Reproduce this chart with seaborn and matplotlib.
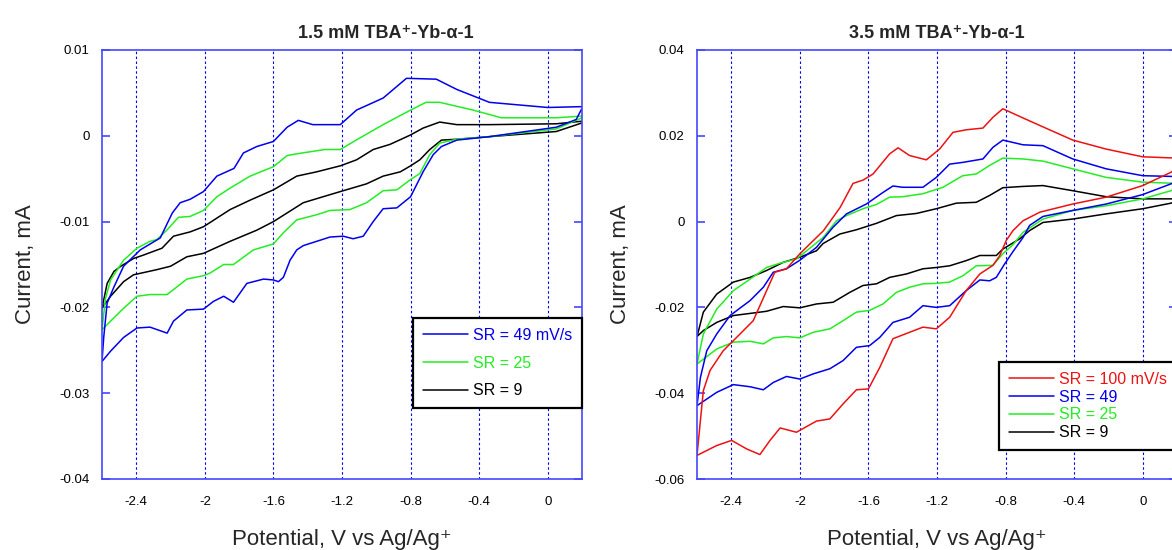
import numpy as np
import pandas as pd
import matplotlib
matplotlib.use("Agg")
import matplotlib.pyplot as plt
import seaborn as sns

# ---------------- data (left panel: 1.5 mM) ----------------
L_blue_low_V = [0.2, 0.166, 0.05, -0.34, -0.53, -0.62, -0.668, -0.727, -0.8, -0.88, -0.96, -1.018, -1.076, -1.135, -1.193, -1.27, -1.348, -1.426, -1.464, -1.503, -1.542, -1.571, -1.6, -1.658, -1.755, -1.833, -1.89, -1.95, -2.008, -2.105, -2.183, -2.22, -2.32, -2.396, -2.474, -2.55, -2.6]
L_blue_low_I = [0.0032, 0.0019, 0.001, -0.0001, -0.0005, -0.00125, -0.0022, -0.0042, -0.0071, -0.0084, -0.0085, -0.01, -0.0117, -0.012, -0.0117, -0.0118, -0.0123, -0.0128, -0.0133, -0.0145, -0.0165, -0.017, -0.0168, -0.0167, -0.0172, -0.0194, -0.0187, -0.0193, -0.0202, -0.0203, -0.0216, -0.023, -0.0223, -0.0224, -0.0235, -0.0251, -0.0263]
L_blue_up_V = [-2.6, -2.59, -2.57, -2.53, -2.474, -2.377, -2.26, -2.19, -2.144, -2.086, -2.008, -1.93, -1.83, -1.775, -1.697, -1.6, -1.52, -1.455, -1.37, -1.21, -1.115, -0.96, -0.824, -0.65, -0.53, -0.34, 0.0, 0.2]
L_blue_up_I = [-0.0263, -0.0235, -0.0195, -0.0176, -0.0152, -0.0133, -0.0119, -0.009, -0.0078, -0.0074, -0.0065, -0.0047, -0.0038, -0.002, -0.00125, -0.00066, 0.001, 0.0018, 0.0013, 0.0013, 0.003, 0.0044, 0.0067, 0.0066, 0.0054, 0.0039, 0.0033, 0.0034]

L_green_low_V = [0.2, 0.05, -0.34, -0.53, -0.63, -0.688, -0.746, -0.8, -0.88, -0.96, -1.057, -1.154, -1.27, -1.348, -1.464, -1.542, -1.6, -1.717, -1.833, -1.89, -1.97, -2.008, -2.105, -2.22, -2.32, -2.396, -2.474, -2.55, -2.6]
L_green_low_I = [0.0021, 0.0008, -0.0001, -0.0004, -0.00085, -0.0022, -0.0044, -0.0051, -0.0063, -0.0064, -0.0078, -0.0086, -0.0087, -0.0092, -0.0098, -0.0113, -0.0126, -0.0133, -0.015, -0.015, -0.016, -0.0163, -0.0167, -0.0185, -0.0185, -0.0187, -0.0201, -0.0216, -0.0226]
L_green_up_V = [-2.6, -2.58, -2.55, -2.474, -2.396, -2.32, -2.28, -2.222, -2.154, -2.086, -2.008, -1.93, -1.853, -1.736, -1.6, -1.52, -1.464, -1.3, -1.21, -1.115, -0.96, -0.8, -0.71, -0.63, -0.436, -0.27, 0.05, 0.2]
L_green_up_I = [-0.0226, -0.019, -0.0168, -0.0145, -0.0131, -0.0123, -0.0121, -0.011, -0.0095, -0.0094, -0.0087, -0.0071, -0.0061, -0.0047, -0.0036, -0.0023, -0.0021, -0.0016, -0.0016, -0.00047, 0.0013, 0.003, 0.0039, 0.0039, 0.003, 0.0021, 0.0021, 0.0023]

L_black_low_V = [0.2, 0.05, -0.34, -0.53, -0.62, -0.688, -0.746, -0.8, -0.86, -0.96, -1.057, -1.193, -1.31, -1.426, -1.6, -1.697, -1.853, -2.008, -2.105, -2.2, -2.28, -2.416, -2.474, -2.55, -2.6]
L_black_low_I = [0.0015, 0.0005, -0.0001, -0.0004, -0.0005, -0.0016, -0.0028, -0.0035, -0.0042, -0.0047, -0.0056, -0.0064, -0.0071, -0.0078, -0.01, -0.011, -0.0123, -0.0137, -0.0141, -0.0152, -0.0156, -0.0162, -0.017, -0.0187, -0.0201]
L_black_up_V = [-2.6, -2.57, -2.53, -2.49, -2.416, -2.358, -2.25, -2.183, -2.086, -2.008, -1.853, -1.736, -1.6, -1.464, -1.348, -1.21, -1.115, -1.018, -0.92, -0.8, -0.727, -0.63, -0.53, -0.34, 0.05, 0.2]
L_black_up_I = [-0.0201, -0.0172, -0.0158, -0.0152, -0.0143, -0.0139, -0.0131, -0.0117, -0.0112, -0.0106, -0.0086, -0.0075, -0.0063, -0.0047, -0.0042, -0.0035, -0.0028, -0.0016, -0.001, 0.0001, 0.0009, 0.0016, 0.0013, 0.0013, 0.0014, 0.0017]

# ---------------- data (right panel: 3.5 mM) ----------------
R_red_low_V = [0.2, 0.165, 0.0, -0.213, -0.408, -0.6, -0.698, -0.757, -0.796, -0.835, -0.874, -0.95, -1.03, -1.126, -1.204, -1.282, -1.36, -1.457, -1.534, -1.6, -1.67, -1.748, -1.825, -1.903, -2.02, -2.115, -2.174, -2.233, -2.31, -2.398, -2.485, -2.6]
R_red_low_I = [0.0125, 0.0115, 0.0084, 0.0057, 0.0041, 0.0022, 0.0002, -0.0021, -0.0044, -0.008, -0.0102, -0.0122, -0.0161, -0.0223, -0.025, -0.0246, -0.0258, -0.0273, -0.034, -0.039, -0.0392, -0.0425, -0.046, -0.0465, -0.0491, -0.0481, -0.051, -0.0543, -0.053, -0.051, -0.0522, -0.0545]
R_red_up_V = [-2.6, -2.563, -2.524, -2.447, -2.369, -2.272, -2.194, -2.146, -2.078, -2.0, -1.862, -1.765, -1.69, -1.63, -1.573, -1.476, -1.427, -1.36, -1.262, -1.185, -1.107, -1.03, -0.932, -0.874, -0.816, -0.717, -0.6, -0.408, -0.213, 0.0, 0.2]
R_red_up_I = [-0.0545, -0.0394, -0.0347, -0.0301, -0.027, -0.0231, -0.0161, -0.0118, -0.011, -0.0075, -0.0021, 0.0033, 0.0089, 0.0097, 0.0111, 0.0158, 0.0172, 0.0154, 0.0144, 0.0169, 0.0208, 0.0214, 0.0218, 0.0243, 0.0263, 0.0245, 0.0224, 0.019, 0.0169, 0.0151, 0.0148]

R_blue_low_V = [0.2, 0.165, 0.0, -0.213, -0.408, -0.582, -0.66, -0.698, -0.757, -0.806, -0.854, -0.893, -0.95, -1.03, -1.126, -1.204, -1.282, -1.36, -1.457, -1.534, -1.593, -1.67, -1.748, -1.825, -1.922, -2.0, -2.078, -2.155, -2.213, -2.29, -2.388, -2.485, -2.6]
R_blue_low_I = [0.0095, 0.0088, 0.0063, 0.0041, 0.0026, 0.0012, -0.0009, -0.0037, -0.007, -0.0099, -0.013, -0.0138, -0.0136, -0.0161, -0.0196, -0.02, -0.0196, -0.0223, -0.0235, -0.027, -0.0289, -0.0293, -0.0324, -0.0343, -0.0355, -0.0367, -0.0361, -0.0375, -0.0392, -0.0385, -0.038, -0.0398, -0.0429]
R_blue_up_V = [-2.6, -2.58, -2.543, -2.485, -2.407, -2.29, -2.213, -2.155, -2.078, -2.0, -1.903, -1.806, -1.728, -1.612, -1.515, -1.457, -1.4, -1.282, -1.204, -1.126, -1.05, -0.932, -0.874, -0.816, -0.698, -0.582, -0.408, -0.213, 0.0, 0.2]
R_blue_up_I = [-0.0429, -0.0363, -0.0301, -0.0262, -0.0219, -0.0184, -0.0153, -0.0118, -0.011, -0.009, -0.006, -0.0013, 0.0018, 0.0041, 0.0068, 0.0083, 0.008, 0.008, 0.0103, 0.0134, 0.0138, 0.0146, 0.0173, 0.019, 0.0179, 0.0177, 0.0146, 0.0123, 0.0107, 0.0105]

R_green_low_V = [0.2, 0.165, 0.0, -0.213, -0.408, -0.582, -0.698, -0.757, -0.816, -0.874, -0.971, -1.048, -1.126, -1.204, -1.282, -1.36, -1.437, -1.515, -1.593, -1.67, -1.748, -1.825, -1.922, -2.0, -2.078, -2.155, -2.213, -2.29, -2.388, -2.485, -2.6]
R_green_low_I = [0.008, 0.0072, 0.0053, 0.0037, 0.0026, 0.0006, -0.0025, -0.0054, -0.0075, -0.0102, -0.0103, -0.0126, -0.0141, -0.0144, -0.0145, -0.0153, -0.0165, -0.0192, -0.0207, -0.0211, -0.0231, -0.025, -0.0258, -0.0271, -0.0268, -0.0271, -0.0285, -0.0279, -0.0281, -0.0297, -0.0332]
R_green_up_V = [-2.6, -2.563, -2.485, -2.388, -2.29, -2.194, -2.116, -2.019, -1.96, -1.864, -1.786, -1.728, -1.632, -1.553, -1.476, -1.4, -1.282, -1.165, -1.05, -0.971, -0.893, -0.816, -0.698, -0.582, -0.408, -0.213, 0.0, 0.2]
R_green_up_I = [-0.0332, -0.0262, -0.0204, -0.0161, -0.0134, -0.0107, -0.0097, -0.0087, -0.0068, -0.0037, 0.0002, 0.0014, 0.003, 0.004, 0.0057, 0.0058, 0.0065, 0.008, 0.0107, 0.0111, 0.0131, 0.0148, 0.0146, 0.0141, 0.0123, 0.0103, 0.0092, 0.0089]

R_black_low_V = [0.2, 0.165, 0.0, -0.213, -0.408, -0.582, -0.66, -0.717, -0.816, -0.854, -0.95, -1.03, -1.126, -1.204, -1.282, -1.378, -1.476, -1.553, -1.632, -1.709, -1.806, -1.903, -2.0, -2.097, -2.194, -2.29, -2.388, -2.485, -2.563, -2.6]
R_black_low_I = [0.0048, 0.0043, 0.003, 0.0018, 0.0006, -0.0002, -0.0021, -0.004, -0.0064, -0.0079, -0.0079, -0.0091, -0.0103, -0.0107, -0.011, -0.0122, -0.013, -0.0145, -0.0149, -0.0165, -0.0188, -0.0192, -0.0201, -0.0198, -0.0209, -0.0214, -0.0219, -0.0235, -0.0254, -0.0268]
R_black_up_V = [-2.6, -2.563, -2.485, -2.388, -2.29, -2.194, -2.097, -2.0, -1.903, -1.864, -1.767, -1.67, -1.553, -1.437, -1.32, -1.204, -1.087, -0.971, -0.893, -0.816, -0.698, -0.582, -0.408, -0.213, 0.0, 0.2]
R_black_up_I = [-0.0268, -0.0211, -0.0169, -0.0141, -0.013, -0.0114, -0.0095, -0.0083, -0.0068, -0.0051, -0.0029, -0.0019, -0.0004, 0.0014, 0.0019, 0.003, 0.0043, 0.0045, 0.0061, 0.0079, 0.0082, 0.0084, 0.0072, 0.0058, 0.0053, 0.0053]

left_title = "1.5 mM TBA⁺-Yb-α-1"
right_title = "3.5 mM TBA⁺-Yb-α-1"
left_labels = ["SR = 49 mV/s", "SR = 25", "SR = 9"]
right_labels = ["SR = 100 mV/s", "SR = 49", "SR = 25", "SR = 9"]
x_ticks = [-2.4, -2.0, -1.6, -1.2, -0.8, -0.4, 0.0]
left_yticks = [-0.04, -0.03, -0.02, -0.01, 0.0, 0.01]
right_yticks = [-0.06, -0.04, -0.02, 0.0, 0.02, 0.04]

# ---------------- style ----------------
sns.set_theme(style="white")
plt.rcParams['font.family'] = ['Liberation Sans', 'DejaVu Sans']
plt.rcParams['axes.unicode_minus'] = False

RED = '#ee1111'
BLUE = '#0000ee'
GREEN = '#22ee22'
BLACK = '#000000'
SPINE = '#4646ff'


def loop_df(lowV, lowI, upV, upI, label):
    V = list(lowV) + list(upV)
    I = list(lowI) + list(upI)
    return pd.DataFrame({'V': V, 'I': I, 'order': np.arange(len(V)), 'SR': label})


fig = plt.figure(figsize=(11.72, 5.5), dpi=100)
axL = fig.add_axes([102 / 1172, 1 - 479 / 550, 480 / 1172, 429 / 550])
axR = fig.add_axes([697 / 1172, 1 - 479 / 550, 480 / 1172, 429 / 550])

left_sets = [
    (L_blue_low_V, L_blue_low_I, L_blue_up_V, L_blue_up_I, left_labels[0], BLUE),
    (L_green_low_V, L_green_low_I, L_green_up_V, L_green_up_I, left_labels[1], GREEN),
    (L_black_low_V, L_black_low_I, L_black_up_V, L_black_up_I, left_labels[2], BLACK),
]
right_sets = [
    (R_red_low_V, R_red_low_I, R_red_up_V, R_red_up_I, right_labels[0], RED),
    (R_blue_low_V, R_blue_low_I, R_blue_up_V, R_blue_up_I, right_labels[1], BLUE),
    (R_green_low_V, R_green_low_I, R_green_up_V, R_green_up_I, right_labels[2], GREEN),
    (R_black_low_V, R_black_low_I, R_black_up_V, R_black_up_I, right_labels[3], BLACK),
]


def draw(ax, sets, title, title_x, yticks, ylim, legend_anchor, labelspacing, borderpad):
    for lowV, lowI, upV, upI, lab, col in reversed(sets):
        df = loop_df(lowV, lowI, upV, upI, lab)
        sns.lineplot(data=df, x='V', y='I', sort=False, estimator=None,
                     color=col, linewidth=1.1, ax=ax, label=lab)
    ax.set_xlim(-2.6, 0.2)
    ax.set_ylim(*ylim)
    ax.set_xticks(x_ticks)
    ax.set_xticklabels(['%g' % t for t in x_ticks])
    ax.set_yticks(yticks)
    ax.set_yticklabels(['%g' % t for t in yticks])
    ax.xaxis.grid(True, color='#0000ee', linestyle=(0, (2.2, 2.2)), linewidth=0.8)
    ax.yaxis.grid(False)
    for s in ax.spines.values():
        s.set_color(SPINE)
        s.set_linewidth(1.2)
    ax.tick_params(axis='y', direction='in', length=6, width=1.2, color=SPINE,
                   left=True, right=True, labelsize=9.5, pad=9, labelcolor='black')
    ax.tick_params(axis='x', direction='in', length=0, labelsize=9.5, pad=12,
                   labelcolor='black')
    t = ax.set_title(title, fontsize=13, fontweight='bold', pad=9)
    t.set_x(title_x)
    ax.set_xlabel("Potential, V vs Ag/Ag⁺", fontsize=16, labelpad=15)
    ax.set_ylabel("Current, mA", fontsize=16, labelpad=17)
    h, l = ax.get_legend_handles_labels()
    order = [l.index(s[4]) for s in sets]
    leg = ax.legend([h[i] for i in order], [l[i] for i in order],
                    loc='lower right', bbox_to_anchor=legend_anchor,
                    borderaxespad=0, frameon=True, fancybox=False,
                    edgecolor='black', framealpha=1, fontsize=11.5,
                    handlelength=2.8, handletextpad=0.35,
                    labelspacing=labelspacing, borderpad=borderpad)
    leg.get_frame().set_linewidth(1.6)
    for txt, s in zip(leg.get_texts(), sets):
        txt.set_color(s[5])


draw(axL, left_sets, left_title, (386 - 102) / 480, left_yticks, (-0.04, 0.01),
     (1.0, 71 / 429), 0.8, 0.6)
draw(axR, right_sets, right_title, 0.5, right_yticks, (-0.06, 0.04),
     (1.0, 29 / 429), 0.17, 0.62)

fig.savefig('out.png', dpi=100)
